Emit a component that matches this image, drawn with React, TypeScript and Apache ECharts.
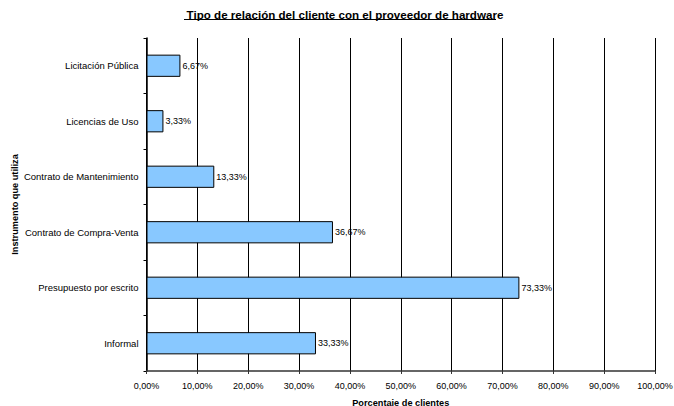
import React, { useEffect, useRef } from "react";
import * as echarts from "echarts";

const categories = [
  "Informal",
  "Presupuesto por escrito",
  "Contrato de Compra-Venta",
  "Contrato de Mantenimiento",
  "Licencias de Uso",
  "Licitación Pública",
];
const values = [33.33, 73.33, 36.67, 13.33, 3.33, 6.67];
const titleText = "Tipo de relación del cliente con el proveedor de hardware";
const xAxisName = "Porcentaje de clientes";
const yAxisName = "Instrumento que utiliza";

const fmt = (v: number) => v.toFixed(2).replace(".", ",") + "%";

export default function App() {
  const ref = useRef<HTMLDivElement>(null);
  useEffect(() => {
    if (!ref.current) return;
    const chart = echarts.init(ref.current, null, { renderer: "svg" });
    const font = "Liberation Sans, Arial, sans-serif";
    chart.setOption({
      animation: false,
      backgroundColor: "#fff",
      textStyle: { fontFamily: font },
      title: {
        text: titleText,
        left: 340,
        textAlign: "center",
        top: 3,
        textStyle: { fontSize: 11.6, fontWeight: "bold", color: "#000", fontFamily: font },
      },
      graphic: [
        {
          type: "line",
          shape: { x1: 184, y1: 19.5, x2: 496, y2: 19.5 },
          style: { stroke: "#000", lineWidth: 1 },
        },
      ],
      grid: { left: 146.5, right: 19, top: 38, bottom: 35, containLabel: false, outerBoundsMode: "none" },
      xAxis: {
        type: "value",
        min: 0,
        max: 100,
        interval: 10,
        name: xAxisName,
        nameLocation: "middle",
        nameGap: 27,
        nameMoveOverlap: false,
        nameTextStyle: { fontSize: 9.2, fontWeight: "bold", color: "#000", fontFamily: font },
        axisLine: { show: true, lineStyle: { color: "#333", width: 1.5 } },
        axisTick: { show: true, length: 3, lineStyle: { color: "#333" } },
        axisLabel: { fontSize: 9, color: "#000", margin: 10, formatter: (v: number) => fmt(v), fontFamily: font },
        splitLine: { show: true, lineStyle: { color: "#000", width: 1 } },
      },
      yAxis: {
        type: "category",
        data: categories,
        name: yAxisName,
        nameLocation: "middle",
        nameGap: 127,
        nameRotate: 90,
        nameMoveOverlap: false,
        nameTextStyle: { fontSize: 9.2, fontWeight: "bold", color: "#000", fontFamily: font },
        axisLine: { show: true, lineStyle: { color: "#000", width: 1.5 } },
        axisTick: { show: true, length: 3, inside: false, lineStyle: { color: "#000" } },
        axisLabel: { fontSize: 9.5, color: "#000", margin: 8, fontFamily: font },
        splitLine: { show: false },
      },
      series: [
        {
          type: "bar",
          data: values,
          barWidth: "40%",
          itemStyle: { color: "#88C8FF", borderColor: "#000", borderWidth: 1 },
          label: {
            show: true,
            position: "right",
            distance: 2,
            fontSize: 9,
            color: "#000",
            fontFamily: font,
            formatter: (p: any) => fmt(p.value),
          },
        },
      ],
    });
    return () => chart.dispose();
  }, []);
  return <div ref={ref} style={{ width: 674, height: 406, position: "absolute", left: 0, top: 0 }} />;
}
